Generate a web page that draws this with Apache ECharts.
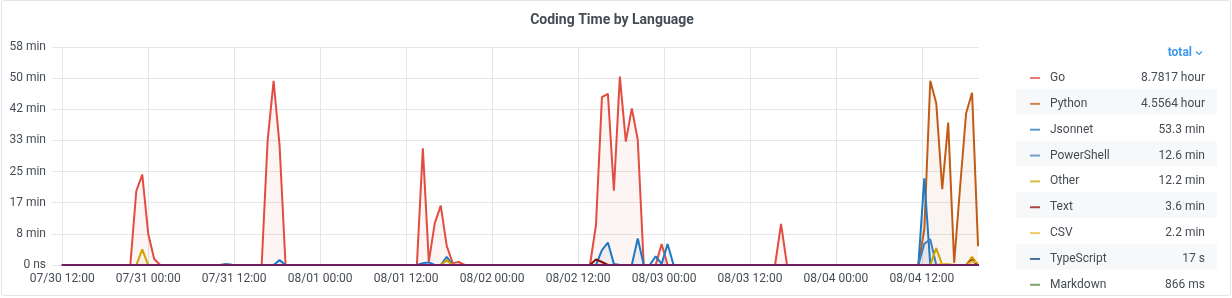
<!DOCTYPE html>
<html>
<head>
<meta charset="utf-8">
<script src="https://cdn.jsdelivr.net/npm/echarts@6/dist/echarts.min.js"></script>
<style>
html,body{margin:0;padding:0;background:#fff;}
#chart{width:1232px;height:298px;}
</style>
</head>
<body>
<div id="chart"></div>
<script>
// ---- data (values in minutes) ----
const seriesNames = ['Go','Python','Jsonnet','PowerShell','Other','Text','CSV','TypeScript','Markdown'];
const legendTotals = ['8.7817 hour','4.5564 hour','53.3 min','12.6 min','12.2 min','3.6 min','2.2 min','17 s','866 ms'];
const yTickLabels = ['0 ns','8 min','17 min','25 min','33 min','42 min','50 min','58 min'];
const xTicks = ['2020-07-30 12:00','2020-07-31 00:00','2020-07-31 12:00','2020-08-01 00:00','2020-08-01 12:00','2020-08-02 00:00',
                '2020-08-02 12:00','2020-08-03 00:00','2020-08-03 12:00','2020-08-04 00:00','2020-08-04 12:00'];

const goData = [
  ['2020-07-30 21:30',0],['2020-07-30 22:20',19.8],['2020-07-30 23:10',24.2],['2020-07-31 00:00',8.3],['2020-07-31 00:50',1.6],['2020-07-31 01:40',0],
  ['2020-07-31 15:50',0],['2020-07-31 16:40',33.3],['2020-07-31 17:30',49.3],['2020-07-31 18:20',32.0],['2020-07-31 19:10',0],
  ['2020-08-01 13:30',0],['2020-08-01 14:20',31.2],['2020-08-01 15:10',0.9],['2020-08-01 16:00',11.2],['2020-08-01 16:50',15.9],['2020-08-01 17:40',5.1],['2020-08-01 18:30',0.5],['2020-08-01 19:20',0.8],['2020-08-01 20:10',0],
  ['2020-08-02 13:40',0],['2020-08-02 14:30',10.7],['2020-08-02 15:20',44.9],['2020-08-02 16:10',45.8],['2020-08-02 17:00',19.9],['2020-08-02 17:50',50.4],['2020-08-02 18:40',33.0],['2020-08-02 19:30',41.9],['2020-08-02 20:20',33.5],['2020-08-02 21:10',0],
  ['2020-08-02 22:50',0],['2020-08-02 23:40',5.6],['2020-08-03 00:30',0],
  ['2020-08-03 15:30',0],['2020-08-03 16:20',11.0],['2020-08-03 17:10',0]
];
const pythonData = [
  ['2020-08-04 11:30',0],['2020-08-04 12:20',9.5],['2020-08-04 13:10',49.3],['2020-08-04 14:00',43.3],['2020-08-04 14:50',20.3],['2020-08-04 15:40',38.1],
  ['2020-08-04 16:30',0.6],['2020-08-04 17:20',21.0],['2020-08-04 18:10',40.6],['2020-08-04 19:00',46.1],['2020-08-04 19:50',5.0]
];
const jsonnetData = [
  ['2020-07-31 17:30',0],['2020-07-31 18:20',1.3],['2020-07-31 19:10',0],
  ['2020-08-01 13:30',0],['2020-08-01 14:20',0.5],['2020-08-01 15:10',0.7],['2020-08-01 16:00',0],['2020-08-01 16:50',0],['2020-08-01 17:40',2.2],['2020-08-01 18:30',0],
  ['2020-08-02 14:30',0],['2020-08-02 15:20',4.0],['2020-08-02 16:10',6.0],['2020-08-02 17:00',0.3],['2020-08-02 17:50',0],['2020-08-02 19:30',0],['2020-08-02 20:20',7.1],['2020-08-02 21:10',0],
  ['2020-08-02 22:00',0],['2020-08-02 22:50',2.3],['2020-08-02 23:40',0.3],['2020-08-03 00:30',5.6],['2020-08-03 01:20',0],
  ['2020-08-04 11:30',0],['2020-08-04 12:20',23.2],['2020-08-04 13:10',0]
];
const powershellData = [
  ['2020-08-04 11:30',0],['2020-08-04 12:20',5.7],['2020-08-04 13:10',6.9],['2020-08-04 14:00',0]
];
const otherData = [
  ['2020-07-30 22:20',0],['2020-07-30 23:10',4.2],['2020-07-31 00:00',0],
  ['2020-08-01 16:50',0],['2020-08-01 17:40',1.3],['2020-08-01 18:30',0],
  ['2020-08-04 13:10',0],['2020-08-04 14:00',4.5],['2020-08-04 14:50',0],
  ['2020-08-04 18:10',0],['2020-08-04 19:00',2.2],['2020-08-04 19:50',0]
];
const textData = [
  ['2020-08-02 13:40',0],['2020-08-02 14:30',1.5],['2020-08-02 15:20',0.8],['2020-08-02 16:10',0],
  ['2020-08-04 18:10',0],['2020-08-04 19:00',1.3],['2020-08-04 19:50',0]
];
const csvData = [
  ['2020-08-04 14:00',0],['2020-08-04 14:50',0.3],['2020-08-04 15:40',0.3],['2020-08-04 16:30',0],
  ['2020-08-04 18:10',0],['2020-08-04 19:00',1.0],['2020-08-04 19:50',0.6]
];
const typescriptData = [
  ['2020-07-31 10:00',0],['2020-07-31 10:50',0.2],['2020-07-31 11:40',0.08],['2020-07-31 12:30',0]
];
const markdownData = [
  ['2020-08-01 16:50',0],['2020-08-01 17:40',0.0144],['2020-08-01 18:30',0]
];
const baselineData = [['2020-07-30 11:54',0],['2020-08-04 19:58',0]];

const xMin = '2020-07-30 10:34';
const xMax = '2020-08-04 19:58';

// ---- styles ----
const palette = ['#E24D42','#C15C17','#1F78C1','#447EBC','#CCA300','#890F02','#EAB839','#0A437C','#508642'];
const baselineColor = '#6D1F62';
const textColor = '#464c54';
const font = 'Roboto, "Noto Sans", sans-serif';

const allData = [goData, pythonData, jsonnetData, powershellData, otherData, textData, csvData, typescriptData, markdownData];

function pad(n){ return (n < 10 ? '0' : '') + n; }
function toMs(s){ return new Date(s.replace(' ', 'T')).getTime(); }

const series = seriesNames.map((name, i) => ({
  name: name,
  type: 'line',
  data: allData[i].map(p => [toMs(p[0]), p[1] * 60]),
  showSymbol: false,
  symbol: 'none',
  lineStyle: { width: 2, color: palette[i] },
  itemStyle: { color: palette[i] },
  areaStyle: { color: palette[i], opacity: 0.06 },
  emphasis: { disabled: true },
  z: 2
}));
series.push({
  type: 'line',
  data: baselineData.map(p => [toMs(p[0]), p[1]]),
  showSymbol: false,
  symbol: 'none',
  lineStyle: { width: 2, color: baselineColor },
  emphasis: { disabled: true },
  z: 3
});

// legend row geometry
const legendFirstCenter = 76, rowPitch = 25.85, itemH = 12;
const stripes = [];
for (let i = 1; i < seriesNames.length; i += 2) {
  const cy = legendFirstCenter + i * rowPitch;
  stripes.push({ type: 'rect', silent: true, z: -1,
    shape: { x: 1016, y: cy - 12.8, width: 201, height: 25.6 },
    style: { fill: '#f7f8fa' } });
}
const tickMs = xTicks.map(toMs);

const chart = echarts.init(document.getElementById('chart'), null, { renderer: 'canvas' });
chart.setOption({
  animation: false,
  backgroundColor: '#fff',
  textStyle: { fontFamily: font },
  title: {
    text: 'Coding Time by Language',
    left: 607, textAlign: 'center', top: 8,
    textStyle: { fontSize: 14, fontWeight: 'bold', color: textColor, fontFamily: font }
  },
  grid: { left: 52, right: 253, top: 47, bottom: 33, containLabel: false },
  xAxis: {
    type: 'value',
    min: toMs(xMin), max: toMs(xMax),
    axisLine: { show: false },
    axisTick: { show: false, customValues: tickMs },
    splitLine: { show: true, lineStyle: { color: '#e6e6e6', width: 1 } },
    axisLabel: {
      color: textColor, fontSize: 12, fontFamily: font, margin: 8,
      customValues: tickMs,
      hideOverlap: false,
      formatter: function (v) {
        const d = new Date(v);
        return pad(d.getMonth() + 1) + '/' + pad(d.getDate()) + ' ' + pad(d.getHours()) + ':' + pad(d.getMinutes());
      }
    }
  },
  yAxis: {
    type: 'value',
    min: 0, max: 3500, interval: 500,
    axisLine: { show: false },
    axisTick: { show: false },
    splitLine: { show: true, lineStyle: { color: '#e6e6e6', width: 1 } },
    axisLabel: {
      color: textColor, fontSize: 12, fontFamily: font, margin: 6,
      formatter: function (v) { return yTickLabels[Math.round(v / 500)]; }
    }
  },
  legend: {
    orient: 'vertical',
    left: 1025, top: legendFirstCenter - 9,
    icon: 'rect', itemWidth: 10, itemHeight: 2, itemGap: rowPitch - itemH,
    data: seriesNames,
    selectedMode: false,
    itemStyle: { opacity: 0.75 },
    formatter: function (name) {
      return '{n|' + name + '}{v|' + legendTotals[seriesNames.indexOf(name)] + '}';
    },
    textStyle: {
      rich: {
        n: { width: 85, padding: [0, 0, 0, 5], fontSize: 12, color: textColor, fontFamily: font },
        v: { width: 70, align: 'right', fontSize: 12, color: textColor, fontFamily: font }
      }
    }
  },
  graphic: [
    { type: 'rect', silent: true, z: -2,
      shape: { x: 1.5, y: 0.5, width: 1229, height: 295, r: 3 },
      style: { fill: 'none', stroke: '#e0e3e8', lineWidth: 1 } },
    ...stripes,
    { type: 'text', silent: true, x: 1192, y: 53,
      style: { text: 'total', fill: '#3d9ae8', font: 'bold 12px ' + font, textAlign: 'right', textVerticalAlign: 'middle' } },
    { type: 'polyline', silent: true,
      shape: { points: [[1196, 51.5], [1199, 54.5], [1202, 51.5]] },
      style: { stroke: '#3d9ae8', lineWidth: 1.2, fill: 'none' } }
  ],
  series: series
});
</script>
</body>
</html>
